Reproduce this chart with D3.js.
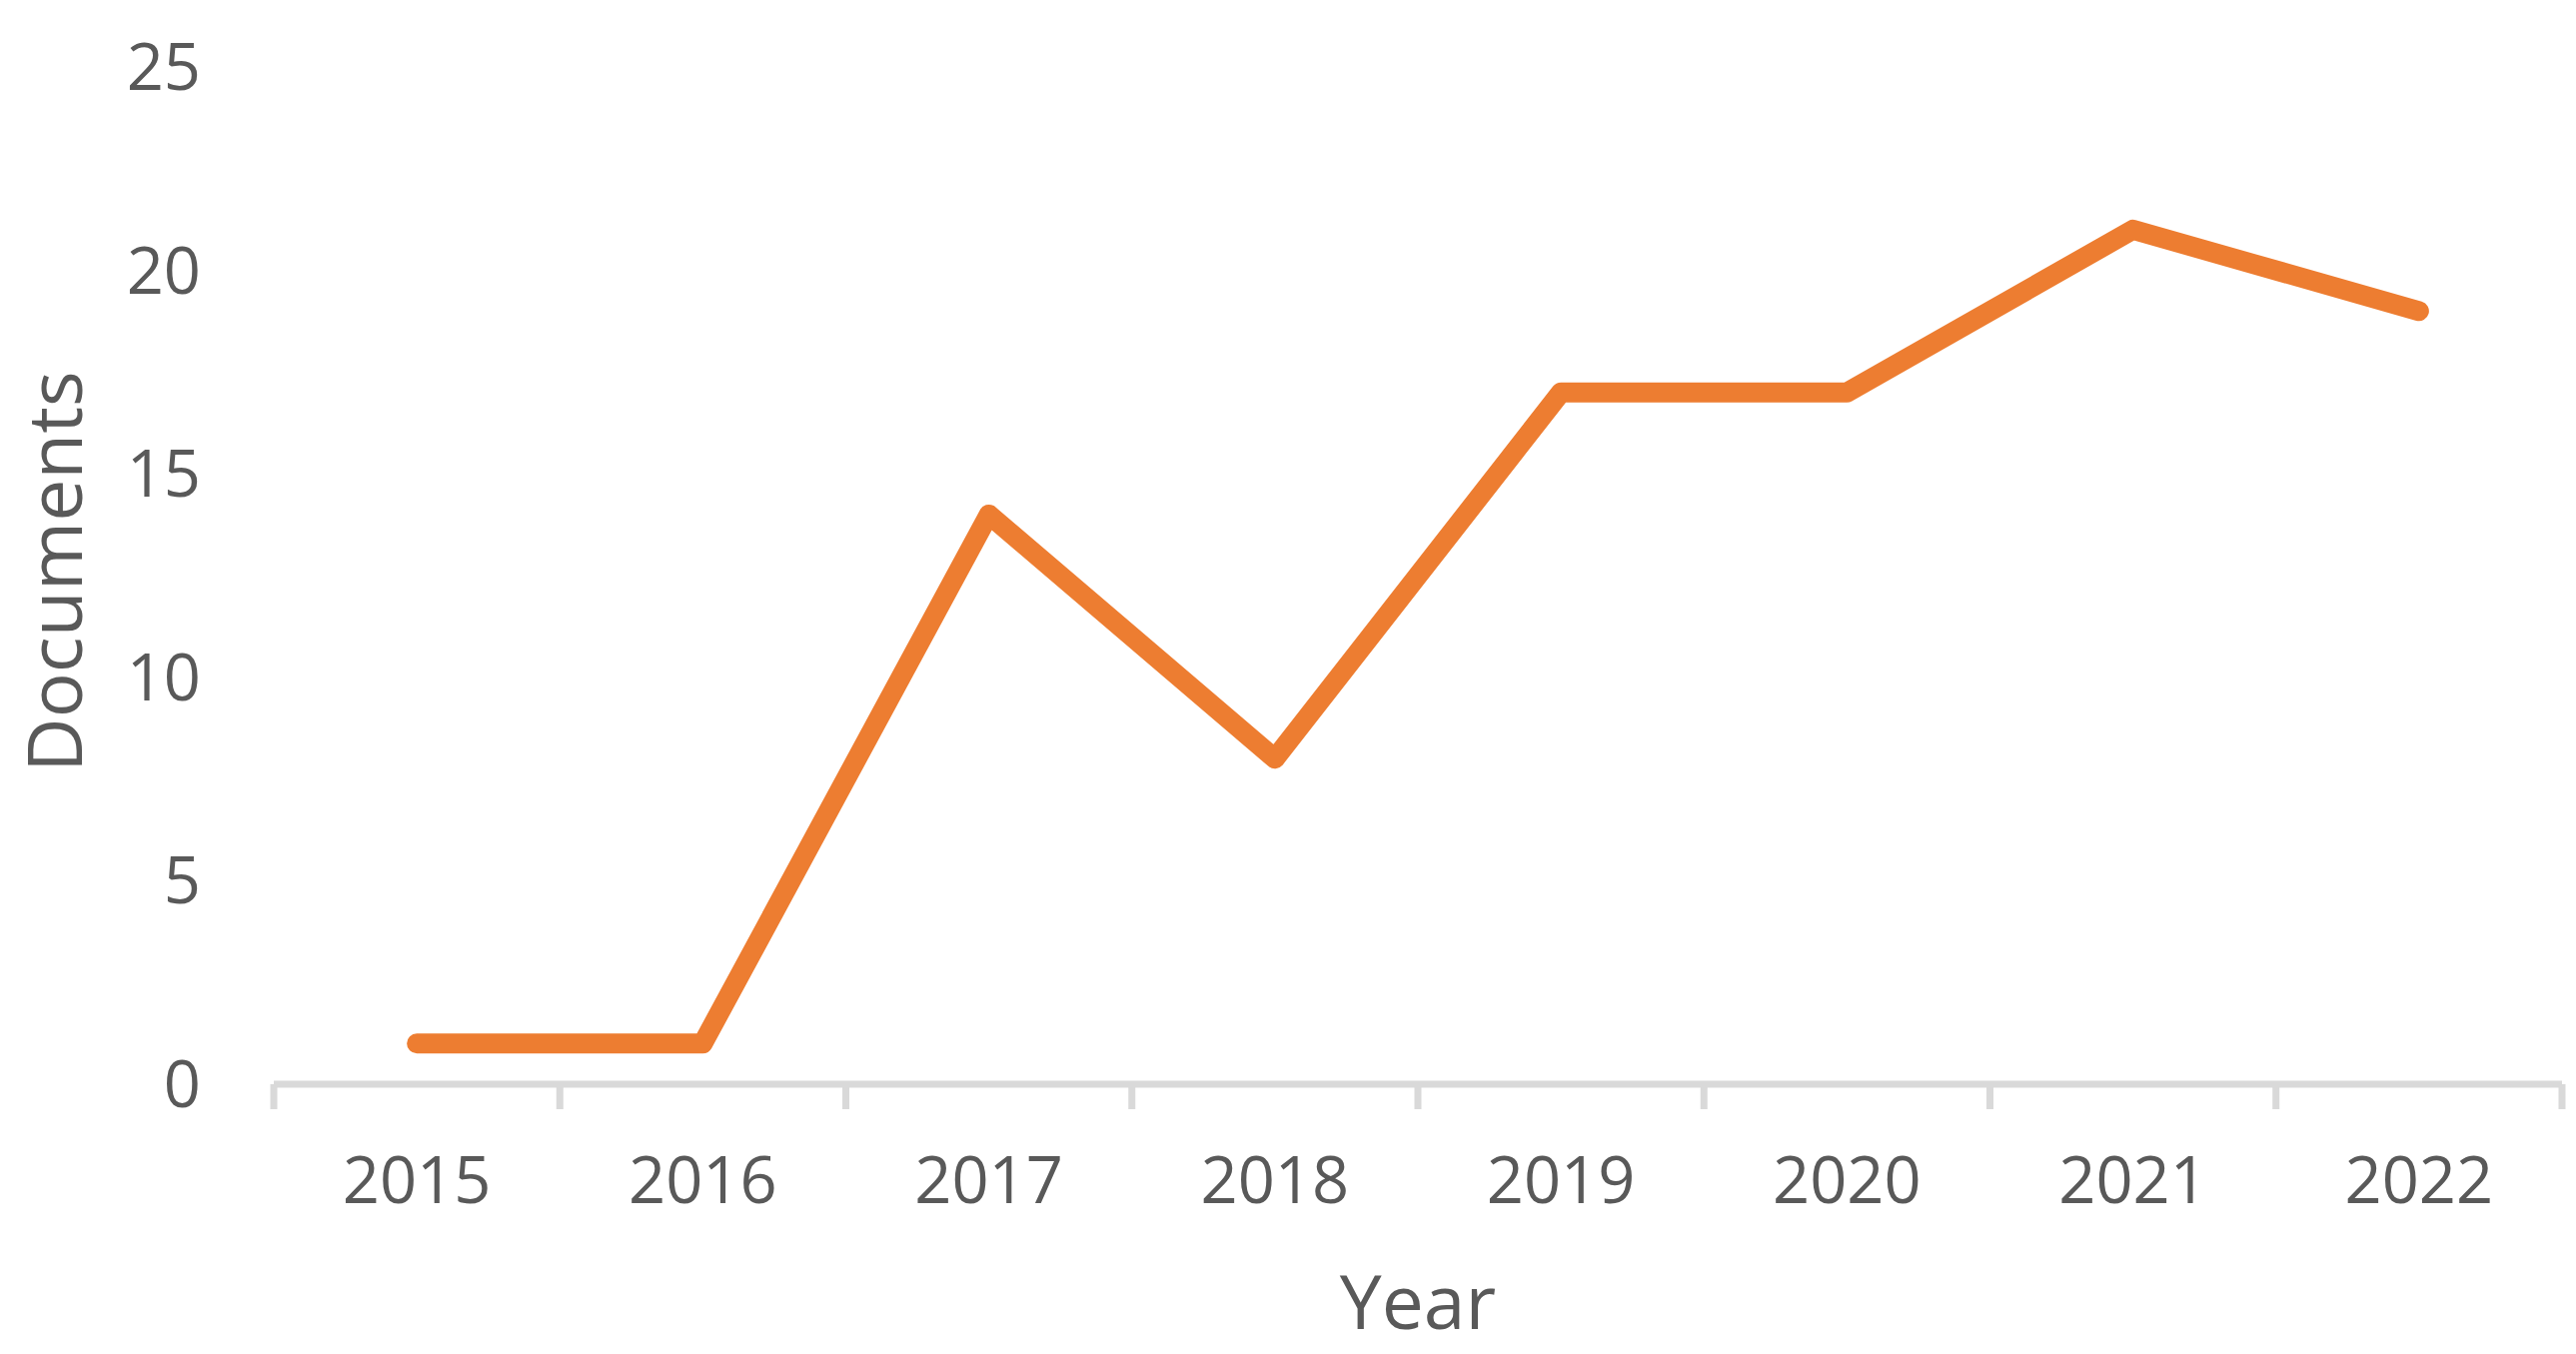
<!DOCTYPE html>
<html><head><meta charset="utf-8">
<script src="https://cdn.jsdelivr.net/npm/d3@7"></script>
<style>html,body{margin:0;padding:0;background:#fff;}svg{display:block;}</style>
</head><body>
<script>
const years = ["2015","2016","2017","2018","2019","2020","2021","2022"];
const documents = [1, 1, 14, 8, 17, 17, 21, 19];
const yTicks = [0, 5, 10, 15, 20, 25];

const W = 2578, H = 1355;
const svg = d3.select("body").append("svg").attr("width", W).attr("height", H);
const font = "'Open Sans', 'Segoe UI', sans-serif";
const textColor = "#595959";

const x = d3.scaleBand().domain(years).range([274, 2564]);
const y = d3.scaleLinear().domain([0, 25]).range([1085, 67]);

// x axis line
svg.append("line").attr("x1", x.range()[0]).attr("x2", x.range()[1])
  .attr("y1", y(0)).attr("y2", y(0))
  .attr("stroke", "#D9D9D9").attr("stroke-width", 7);
// tick marks at band boundaries
const bounds = years.map(d => x(d)).concat([x.range()[1]]);
svg.selectAll(".tk").data(bounds).enter().append("line")
  .attr("x1", d => d).attr("x2", d => d)
  .attr("y1", y(0)).attr("y2", y(0) + 25)
  .attr("stroke", "#D9D9D9").attr("stroke-width", 7);

// x labels
svg.selectAll(".xl").data(years).enter().append("text")
  .attr("x", d => x(d) + x.bandwidth() / 2).attr("y", 1204)
  .attr("text-anchor", "middle").attr("font-family", font)
  .attr("font-size", 65).attr("fill", textColor).text(d => d);

// y labels
svg.selectAll(".yl").data(yTicks).enter().append("text")
  .attr("x", 201).attr("y", d => y(d) + 23)
  .attr("text-anchor", "end").attr("font-family", font)
  .attr("font-size", 65).attr("fill", textColor).text(d => d);

// line
const line = d3.line().x((d, i) => x(years[i]) + x.bandwidth() / 2).y(d => y(d));
svg.append("path").datum(documents).attr("d", line)
  .attr("fill", "none").attr("stroke", "#ED7D31").attr("stroke-width", 20)
  .attr("stroke-linecap", "round").attr("stroke-linejoin", "round");

// axis titles
svg.append("text").attr("x", 1419).attr("y", 1330)
  .attr("text-anchor", "middle").attr("font-family", font)
  .attr("font-size", 75).attr("fill", textColor).text("Year");
svg.append("text").attr("transform", "translate(82,572) rotate(-90)")
  .attr("text-anchor", "middle").attr("font-family", font)
  .attr("font-size", 75).attr("fill", textColor).text("Documents");
</script>
</body></html>
